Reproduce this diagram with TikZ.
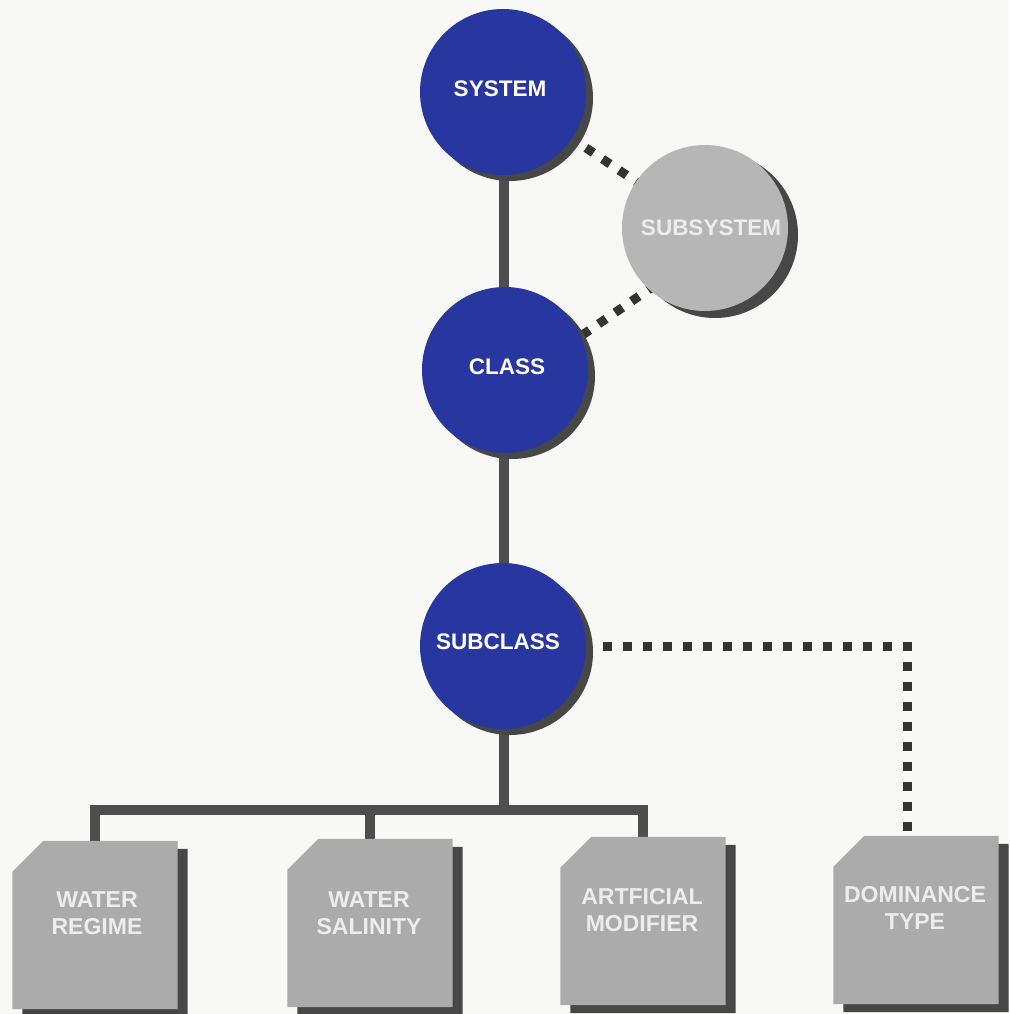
\documentclass[tikz,border=0pt]{standalone}
\usepackage{fontspec}
\setmainfont{Liberation Sans}
\usetikzlibrary{calc}
\definecolor{bgc}{HTML}{F8F8F6}
\definecolor{blu}{RGB}{40,54,160}
\definecolor{shd}{HTML}{474747}
\definecolor{conn}{HTML}{4E4E4E}
\definecolor{dotc}{HTML}{333333}
\definecolor{cgray}{HTML}{B6B6B6}
\definecolor{bgray}{HTML}{ABABAB}
\definecolor{btxt}{HTML}{EDEDED}
\tikzset{
  circnode/.style={circle, minimum size=166pt, inner sep=0pt, font=\fontsize{22.5}{26}\selectfont\bfseries},
  bluecirc/.style={circnode, fill=blu, text=white},
  graycirc/.style={circnode, fill=cgray, text=btxt},
  boxshape/.style={rectangle, minimum width=165pt, minimum height=168pt, inner sep=0pt},
  boxtext/.style={align=center, text=btxt, font=\fontsize{23}{27}\selectfont\bfseries},
  solidconn/.style={draw=conn, line width=10pt},
  dotconn/.style={draw=dotc, line width=9pt, dash pattern=on 9pt off 11pt},
}
\begin{document}
\begin{tikzpicture}[x=1pt,y=-1pt]
\fill[bgc] (0,0) rectangle (1009,1014);
\useasboundingbox (0,0) rectangle (1009,1014);

% node placement (invisible first, drawn later)
\path (503,92) node[circnode] (system) {};
\path (705,228) node[circnode] (subsys) {};
\path (505,370) node[circnode] (class) {};
\path (503,646) node[circnode] (subclass) {};

\path (95,925) node[boxshape] (wr) {};
\path (370,923) node[boxshape] (ws) {};
\path (643,921) node[boxshape] (am) {};
\path (916,920) node[boxshape] (dt) {};

\coordinate (bar) at (504,810);
\coordinate (corner) at (907,646);

% connectors
\draw[solidconn] (system.center -| bar) -- (class.center -| bar);
\draw[solidconn] (class.center -| bar) -- (subclass.center -| bar);
\draw[solidconn] (subclass.center -| bar) -- (bar);
\draw[solidconn, line cap=rect] (wr.north |- bar) -- (am.north |- bar);
\draw[solidconn] (wr.north |- bar) -- ($(wr.north)+(0,4)$);
\draw[solidconn] (ws.north |- bar) -- ($(ws.north)+(0,4)$);
\draw[solidconn] (am.north |- bar) -- ($(am.north)+(0,4)$);

\draw[dotconn] (system.center) -- (subsys.center);
\draw[dotconn] ($(subsys.center)+(0,23)$) -- ($(class.center)+(0,18)$);
\draw[dotconn] ($(corner)+(4.5,0)$) -- (subclass.center);
\draw[dotconn] ($(corner)+(0,-4.5)$) -- (dt.north -| corner);

% circle shadows and circles
\foreach \n/\dx/\dy in {system/7/6, class/7/6, subclass/7/6, subsys/10/7}{
  \fill[shd] ($(\n.center)+(\dx,\dy)$) circle (83pt);
}
\fill[blu] (system.center) circle (83pt);
\fill[blu] (class.center) circle (83pt);
\fill[blu] (subclass.center) circle (83pt);
\fill[cgray] (subsys.center) circle (83pt);

\node[bluecirc, fill=none] at ($(system.center)+(-3,-3)$) {SYSTEM};
\node[bluecirc, fill=none] at ($(class.center)+(2,-3)$) {CLASS};
\node[bluecirc, fill=none] at ($(subclass.center)+(-5,-4)$) {SUBCLASS};
\node[graycirc, fill=none] at ($(subsys.center)+(6,0)$) {SUBSYSTEM};

% boxes
\foreach \b in {wr,ws,am,dt}{
  \fill[shd] ($(\b.north west)+(10,39)$) -- ($(\b.north west)+(41,8)$) -- ($(\b.north east)+(10,8)$) -- ($(\b.south east)+(10,8)$) -- ($(\b.south west)+(10,8)$) -- cycle;
  \fill[bgray] ($(\b.north west)+(0,31)$) -- ($(\b.north west)+(31,0)$) -- (\b.north east) -- (\b.south east) -- (\b.south west) -- cycle;
}
\node[boxtext] (wrt) at ($(wr.center)+(2,-12)$) {WATER\\REGIME};
\node[boxtext] (wst) at ($(ws.center)+(-1,-10)$) {WATER\\SALINITY};
\node[boxtext] (amt) at ($(am.center)+(-1,-11)$) {ARTFICIAL\\MODIFIER};
\node[boxtext] (dtt) at ($(dt.center)+(-1,-12)$) {DOMINANCE\\TYPE};
\end{tikzpicture}
\end{document}
